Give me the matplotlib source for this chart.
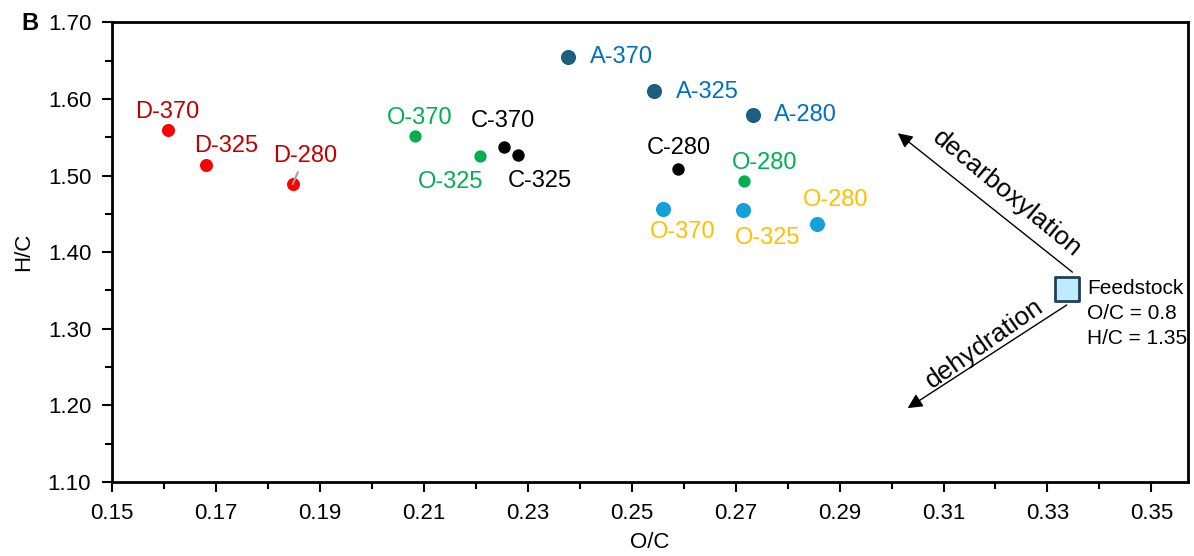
import numpy as np
from matplotlib import pyplot as plt

plt.rcParams['font.family'] = ['Liberation Sans', 'DejaVu Sans']

# data (O/C, H/C)
d_names = ['D-370', 'D-325', 'D-280']
d_oc = [0.1608, 0.1681, 0.1848]
d_hc = [1.559, 1.514, 1.489]

og_names = ['O-370', 'O-325', 'O-280']
og_oc = [0.2083, 0.2208, 0.2717]
og_hc = [1.552, 1.526, 1.493]

c_names = ['C-370', 'C-325', 'C-280']
c_oc = [0.2254, 0.2281, 0.2590]
c_hc = [1.537, 1.527, 1.508]

a_names = ['A-370', 'A-325', 'A-280']
a_oc = [0.2377, 0.2542, 0.2733]
a_hc = [1.655, 1.610, 1.579]

ob_names = ['O-370', 'O-325', 'O-280']
ob_oc = [0.2560, 0.2715, 0.2856]
ob_hc = [1.456, 1.455, 1.437]

feed_oc = [0.3338]
feed_hc = [1.352]
feed_text = 'Feedstock\nO/C = 0.8\nH/C = 1.35'

# label offsets in pixels (dx, dy, ha)
d_off = [(-1, 18, 'center'), (20, 19, 'center'), (12, 28, 'center')]
og_off = [(5, 18, 'center'), (-29, -26, 'center'), (20, 18, 'center')]
c_off = [(-1, 26, 'center'), (22, -26, 'center'), (0, 21, 'center')]
a_off = [(22, 0, 'left'), (22, -1, 'left'), (21, 0, 'left')]
ob_off = [(20, -23, 'center'), (24, -28, 'center'), (19, 24, 'center')]

series = [
    (d_names, d_oc, d_hc, '#FF0000', '#C00000', 88, d_off),
    (og_names, og_oc, og_hc, '#00B050', '#00B050', 78, og_off),
    (c_names, c_oc, c_hc, '#000000', '#000000', 80, c_off),
    (a_names, a_oc, a_hc, '#1B5E80', '#0070C0', 118, a_off),
    (ob_names, ob_oc, ob_hc, '#14A0D8', '#FFC000', 118, ob_off),
]

fig = plt.figure(figsize=(11.94, 5.56), dpi=100)
ax = fig.add_axes([0.0938, 0.133, 0.901, 0.827])

for names, xs, ys, mc, tc, sz, offs in series:
    ax.scatter(xs, ys, s=sz, color=mc, zorder=3, linewidths=0)
    for n, x, y, (dx, dy, ha) in zip(names, xs, ys, offs):
        if n == 'D-280':
            ax.annotate(n, (x, y), xytext=(dx, dy), textcoords='offset pixels',
                        ha=ha, va='center', color=tc, fontsize=17,
                        arrowprops=dict(arrowstyle='-', color='#A0A0A0', lw=1.5,
                                        shrinkA=2, shrinkB=0))
        else:
            ax.annotate(n, (x, y), xytext=(dx, dy), textcoords='offset pixels',
                        ha=ha, va='center', color=tc, fontsize=17)

ax.scatter(feed_oc, feed_hc, s=290, marker='s', color='#BDEBFF',
           edgecolors='#1F3F5A', linewidths=2, zorder=3)
ax.annotate(feed_text, (feed_oc[0], feed_hc[0]), xytext=(20, 10),
            textcoords='offset pixels', ha='left', va='top', fontsize=15,
            linespacing=1.4)

# reaction arrows
ax.annotate('', xy=(0.3012, 1.5552), xytext=(0.3348, 1.3739),
            arrowprops=dict(arrowstyle='-|>', color='black', lw=1,
                            mutation_scale=22, shrinkA=0, shrinkB=0))
ax.annotate('', xy=(0.3031, 1.1965), xytext=(0.3337, 1.331),
            arrowprops=dict(arrowstyle='-|>', color='black', lw=1,
                            mutation_scale=22, shrinkA=0, shrinkB=0))
ax.text(0.3221, 1.476, 'decarboxylation', rotation=-39.5, ha='center',
        va='center', fontsize=19, rotation_mode='anchor')
ax.text(0.3178, 1.281, 'dehydration', rotation=35, ha='center',
        va='center', fontsize=19, rotation_mode='anchor')

ax.set_xlim(0.15, 0.357)
ax.set_ylim(1.10, 1.70)
ax.set_xticks(np.arange(0.15, 0.351, 0.02))
ax.set_xticks(np.arange(0.15, 0.357, 0.01), minor=True)
ax.set_yticks(np.arange(1.10, 1.701, 0.10))
ax.set_yticks(np.arange(1.10, 1.70, 0.05), minor=True)
ax.set_xticklabels(['%.2f' % v for v in np.arange(0.15, 0.351, 0.02)])
ax.set_yticklabels(['%.2f' % v for v in np.arange(1.10, 1.701, 0.10)])
ax.tick_params(which='both', direction='out', labelsize=16, width=1.5)
ax.tick_params(which='major', length=7, pad=8)
ax.tick_params(which='minor', length=5)
for s in ax.spines.values():
    s.set_linewidth(2)

ax.set_xlabel('O/C', fontsize=16, labelpad=6)
ax.set_ylabel('H/C', fontsize=16, labelpad=10)
fig.text(0.018, 0.958, 'B', fontsize=17, fontweight='bold', va='center')

fig.savefig('out.png', dpi=100)
